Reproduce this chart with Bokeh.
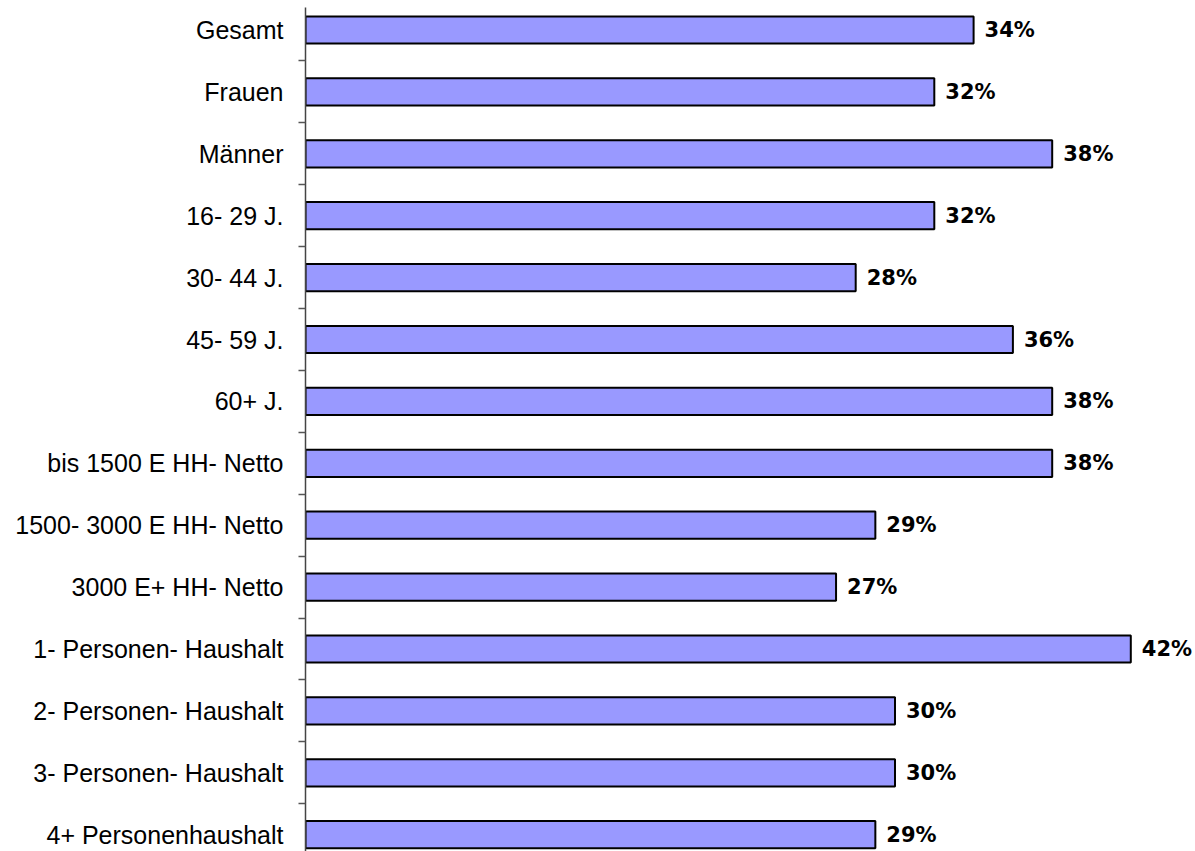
from bokeh.plotting import figure
from bokeh.models import ColumnDataSource, Range1d, FixedTicker
from bokeh.core.properties import value
from bokeh.embed import file_html
from bokeh.resources import INLINE

categories = [
    "Gesamt", "Frauen", "Männer", "16- 29 J.", "30- 44 J.", "45- 59 J.", "60+ J.",
    "bis 1500 E HH- Netto", "1500- 3000 E HH- Netto", "3000 E+ HH- Netto",
    "1- Personen- Haushalt", "2- Personen- Haushalt", "3- Personen- Haushalt",
    "4+ Personenhaushalt",
]
values = [34, 32, 38, 32, 28, 36, 38, 38, 29, 27, 42, 30, 30, 29]
value_labels = [f"{v}%" for v in values]

idx = list(range(len(categories)))
src = ColumnDataSource(dict(y=idx, v=values, lab=value_labels))

W, H = 1195, 851
border_top = 7
row_px = 61.9
top = -(29.5 - border_top) / row_px
bottom = top + (H - border_top) / row_px
left_px = 305
x_end = (W - left_px) / 19.65

p = figure(width=W, height=H, output_backend="svg", toolbar_location=None,
           x_range=Range1d(0, x_end), y_range=Range1d(bottom, top),
           min_border_left=left_px, min_border_right=0, min_border_top=border_top,
           min_border_bottom=0)
p.outline_line_color = None
p.xgrid.visible = False
p.ygrid.visible = False
p.xaxis.visible = False

p.hbar(y="y", left=0, right="v", height=0.44, source=src,
       fill_color="#9999FF", line_color="black", line_width=2)
p.text(x="v", y="y", text="lab", source=src, x_offset=11,
       text_align="left", text_baseline="middle",
       text_font=value("DejaVu Sans"), text_font_style="bold",
       text_font_size="21px", text_color="black")

ya = p.yaxis[0]
ya.ticker = FixedTicker(ticks=idx, minor_ticks=[i + 0.5 for i in range(len(categories) - 1)])
ya.major_label_overrides = {i: c for i, c in enumerate(categories)}
ya.major_tick_line_color = None
ya.major_tick_out = 0
ya.major_tick_in = 0
ya.minor_tick_out = 7
ya.minor_tick_in = 0
ya.minor_tick_line_color = "#555555"
ya.minor_tick_line_width = 1.5
ya.axis_line_color = "#444444"
ya.axis_line_width = 1.5
ya.major_label_standoff = 15
ya.major_label_text_font = "Liberation Sans"
ya.major_label_text_font_size = "25px"
ya.major_label_text_color = "black"

open("out.html", "w").write(file_html(p, INLINE))
